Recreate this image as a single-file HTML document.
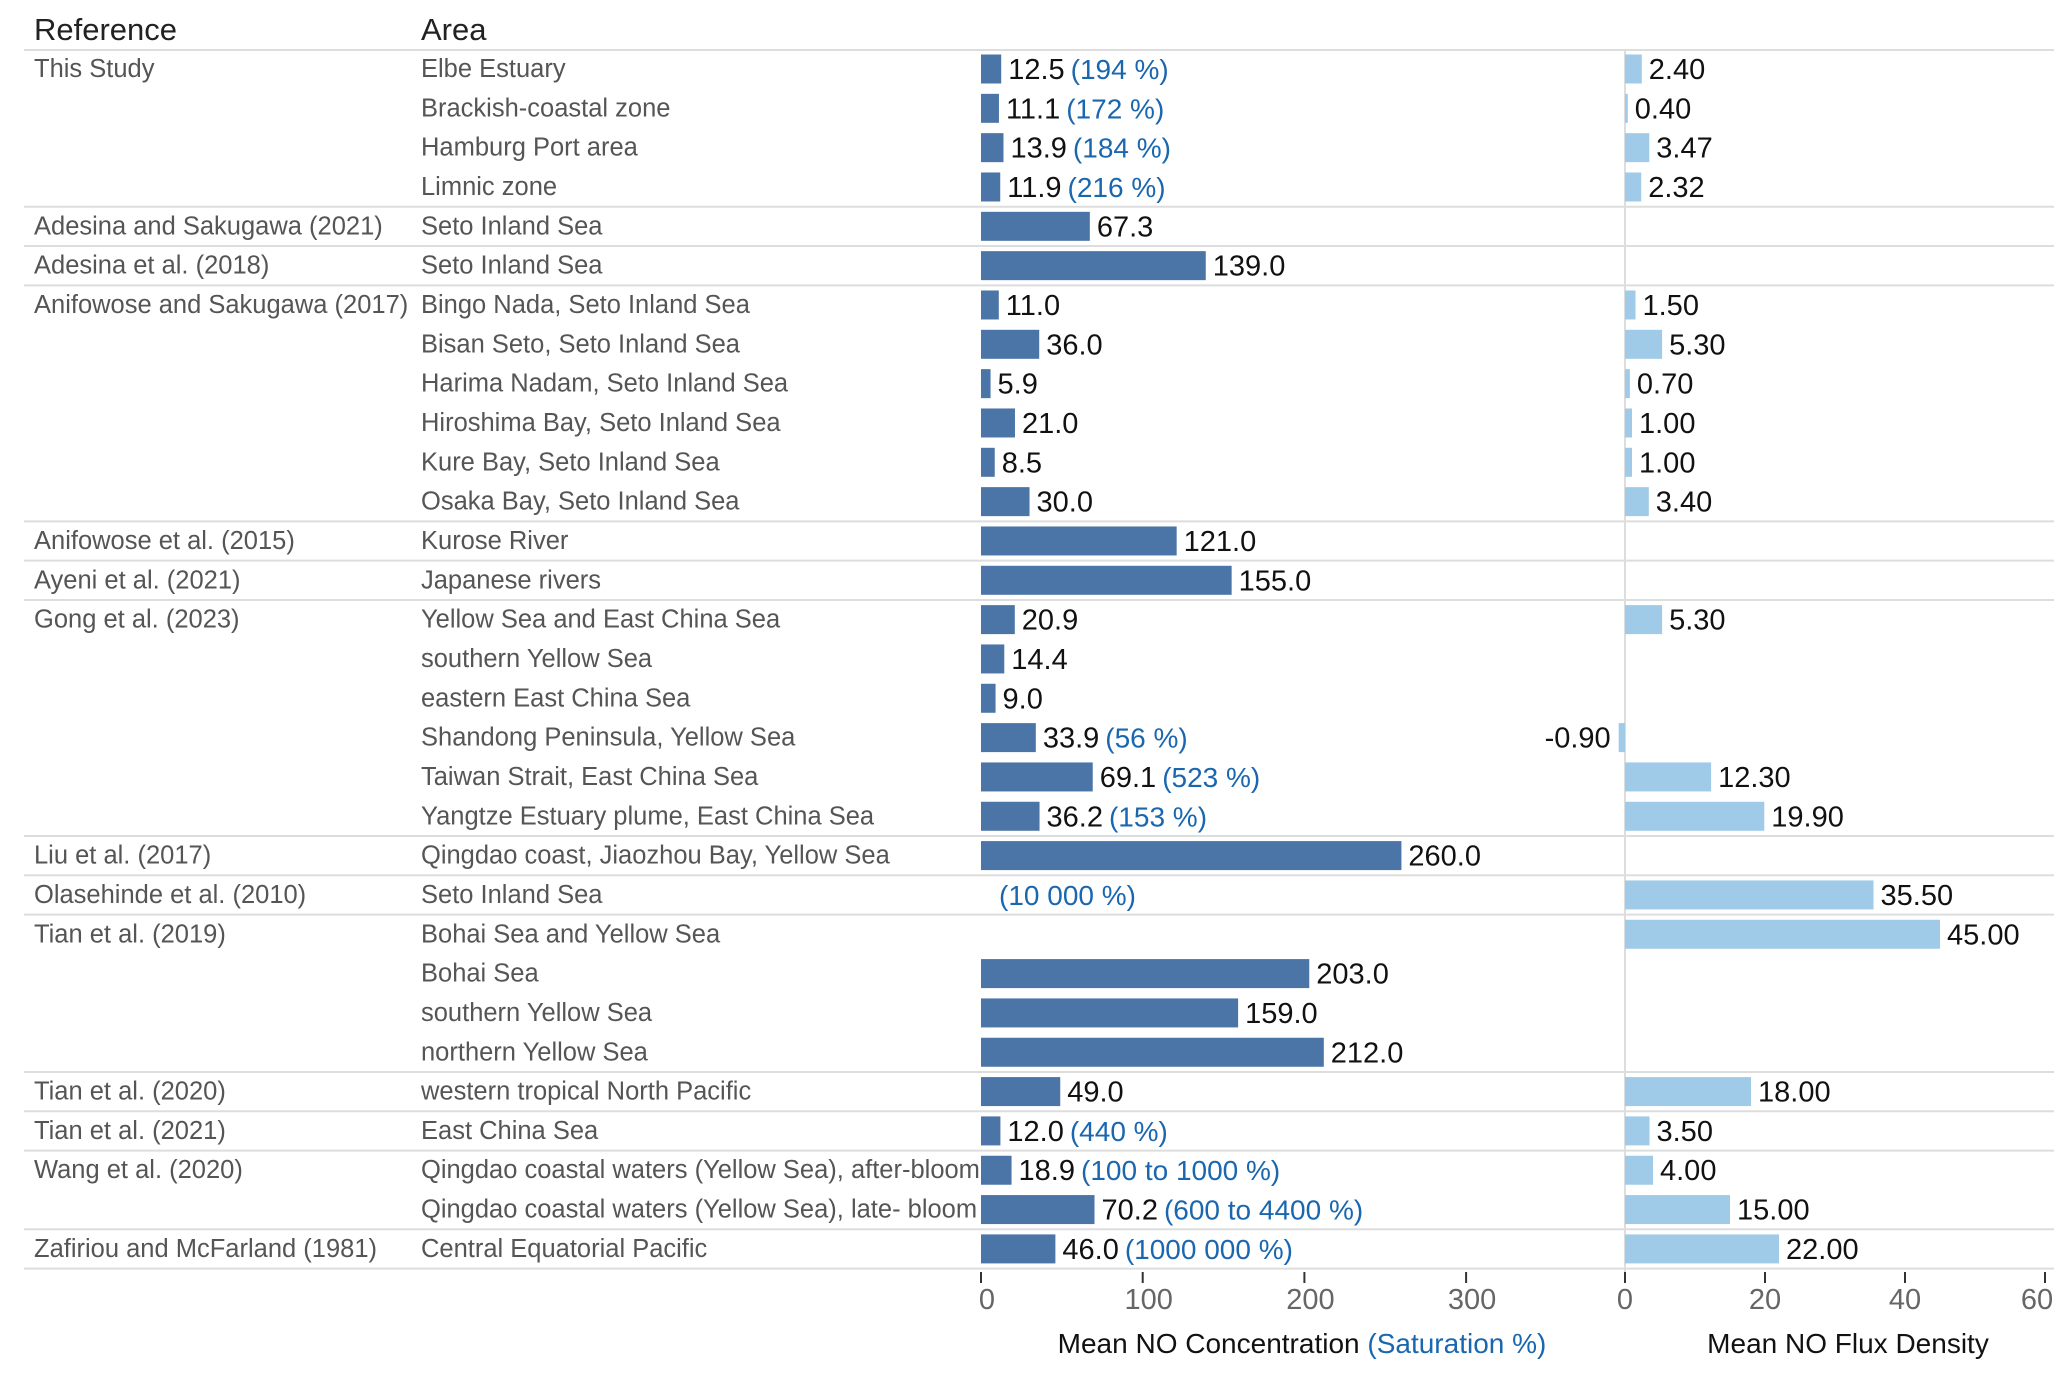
<!DOCTYPE html>
<html><head><meta charset="utf-8">
<style>
html,body{margin:0;padding:0;background:#fff;}
svg{display:block;font-family:"Liberation Sans",Arial,sans-serif;}
</style></head>
<body>
<svg id="chart" width="2067" height="1384" viewBox="0 0 2067 1384" xmlns="http://www.w3.org/2000/svg">
<text x="34" y="40" font-size="31" fill="#222">Reference</text>
<text x="421" y="40" font-size="31" fill="#222">Area</text>
<g id="grid"></g>
<g id="rows"></g>
<g id="axes"></g>
<text x="1302" y="1353" font-size="28" text-anchor="middle" fill="#111">Mean NO Concentration <tspan fill="#1a67b0">(Saturation %)</tspan></text>
<text x="1848" y="1353" font-size="28" text-anchor="middle" fill="#111">Mean NO Flux Density</text>
</svg>
<script>
const references = ["This Study","","","","Adesina and Sakugawa (2021)","Adesina et al. (2018)","Anifowose and Sakugawa (2017)","","","","","","Anifowose et al. (2015)","Ayeni et al. (2021)","Gong et al. (2023)","","","","","","Liu et al. (2017)","Olasehinde et al. (2010)","Tian et al. (2019)","","","","Tian et al. (2020)","Tian et al. (2021)","Wang et al. (2020)","","Zafiriou and McFarland (1981)"];
const areas = ["Elbe Estuary","Brackish-coastal zone","Hamburg Port area","Limnic zone","Seto Inland Sea","Seto Inland Sea","Bingo Nada, Seto Inland Sea","Bisan Seto, Seto Inland Sea","Harima Nadam, Seto Inland Sea","Hiroshima Bay, Seto Inland Sea","Kure Bay, Seto Inland Sea","Osaka Bay, Seto Inland Sea","Kurose River","Japanese rivers","Yellow Sea and East China Sea","southern Yellow Sea","eastern East China Sea","Shandong Peninsula, Yellow Sea","Taiwan Strait, East China Sea","Yangtze Estuary plume, East China Sea","Qingdao coast, Jiaozhou Bay, Yellow Sea","Seto Inland Sea","Bohai Sea and Yellow Sea","Bohai Sea","southern Yellow Sea","northern Yellow Sea","western tropical North Pacific","East China Sea","Qingdao coastal waters (Yellow Sea), after-bloom","Qingdao coastal waters (Yellow Sea), late- bloom","Central Equatorial Pacific"];
const concentration = [12.5,11.1,13.9,11.9,67.3,139.0,11.0,36.0,5.9,21.0,8.5,30.0,121.0,155.0,20.9,14.4,9.0,33.9,69.1,36.2,260.0,null,null,203.0,159.0,212.0,49.0,12.0,18.9,70.2,46.0];
const saturation = ["194 %","172 %","184 %","216 %","","","","","","","","","","","","","","56 %","523 %","153 %","","10 000 %","","","","","","440 %","100 to 1000 %","600 to 4400 %","1000 000 %"];
const flux = [2.40,0.40,3.47,2.32,null,null,1.50,5.30,0.70,1.00,1.00,3.40,null,null,5.30,null,null,-0.90,12.30,19.90,null,35.50,45.00,null,null,null,18.00,3.50,4.00,15.00,22.00];
const concTicks = [0,100,200,300];
const fluxTicks = [0,20,40,60];

const NS="http://www.w3.org/2000/svg";
const cx = v => 981 + v*1.617;
const fx = v => 1625 + v*7.0;
const rowY = i => 69 + i*39.33;
function mk(tag, attrs, parent, txt){const e=document.createElementNS(NS,tag);for(const k in attrs)e.setAttribute(k,attrs[k]);if(txt!==undefined)e.textContent=txt;parent.appendChild(e);return e;}
const grid=document.getElementById('grid'), rows=document.getElementById('rows'), axes=document.getElementById('axes');

let hl=mk('line',{x1:24,x2:2054,y1:50,y2:50,stroke:'#ddd','stroke-width':2},grid);


for(let i=0;i<references.length;i++){
  const last = i===references.length-1 || references[i+1]!=="";
  if(last){
    const y=rowY(i)+19.7;
    const l=mk('line',{x1:24,x2:2054,y1:y,y2:y,stroke:'#ddd','stroke-width':2},grid);
    
    
  }
}
const zl=mk('line',{x1:fx(0),x2:fx(0),y1:50,y2:1272,stroke:'#ddd','stroke-width':2},grid);



for(let i=0;i<areas.length;i++){
  const y=rowY(i);
  if(references[i]){
    const t=mk('text',{x:34,y:y+8,'font-size':25.5,fill:'#555'},rows,references[i]);
    
    
  }
  const a=mk('text',{x:421,y:y+8,'font-size':25.5,fill:'#555'},rows,areas[i]);
  
  
  const c=concentration[i];
  let tx=cx(0)+18;
  if(c!==null){
    const b=mk('rect',{x:cx(0),y:y-14.5,width:cx(c)-cx(0),height:29,fill:'#4a75a6'},rows);
    
    
    const lab=c.toFixed(1);
    const v=mk('text',{x:cx(c)+7,y:y+10,'font-size':29,fill:'#111'},rows,lab);
    
    
    tx=cx(c)+7+v.getComputedTextLength()+6;
  }
  if(saturation[i]){
    const s=mk('text',{x:tx,y:y+10,'font-size':28,fill:'#1a67b0'},rows,'('+saturation[i]+')');
    
    
  }
  const f=flux[i];
  if(f!==null){
    const x0=Math.min(fx(0),fx(f)), w=Math.abs(fx(f)-fx(0));
    const b=mk('rect',{x:x0,y:y-14.5,width:Math.max(w,1),height:29,fill:'#9fcbe9'},rows);
    
    
    const v=mk('text',{x:f<0?fx(f)-8:fx(f)+7,y:y+10,'font-size':29,fill:'#111','text-anchor':f<0?'end':'start'},rows,f.toFixed(2));
    
    
  }
}
concTicks.forEach(t=>{
  const l=mk('line',{x1:cx(t),x2:cx(t),y1:1272,y2:1283,stroke:'#333','stroke-width':2},axes);
  
  
  const tt=mk('text',{x:cx(t)+6,y:1309,'font-size':29,fill:'#666','text-anchor':'middle'},axes,String(t));
  
  
});
fluxTicks.forEach(t=>{
  const l=mk('line',{x1:fx(t),x2:fx(t),y1:1272,y2:1283,stroke:'#333','stroke-width':2},axes);
  
  
  const tt=mk('text',{x:fx(t)+(t===60?-8:0),y:1309,'font-size':29,fill:'#666','text-anchor':'middle'},axes,String(t));
  
  
});
</script>
</body></html>
